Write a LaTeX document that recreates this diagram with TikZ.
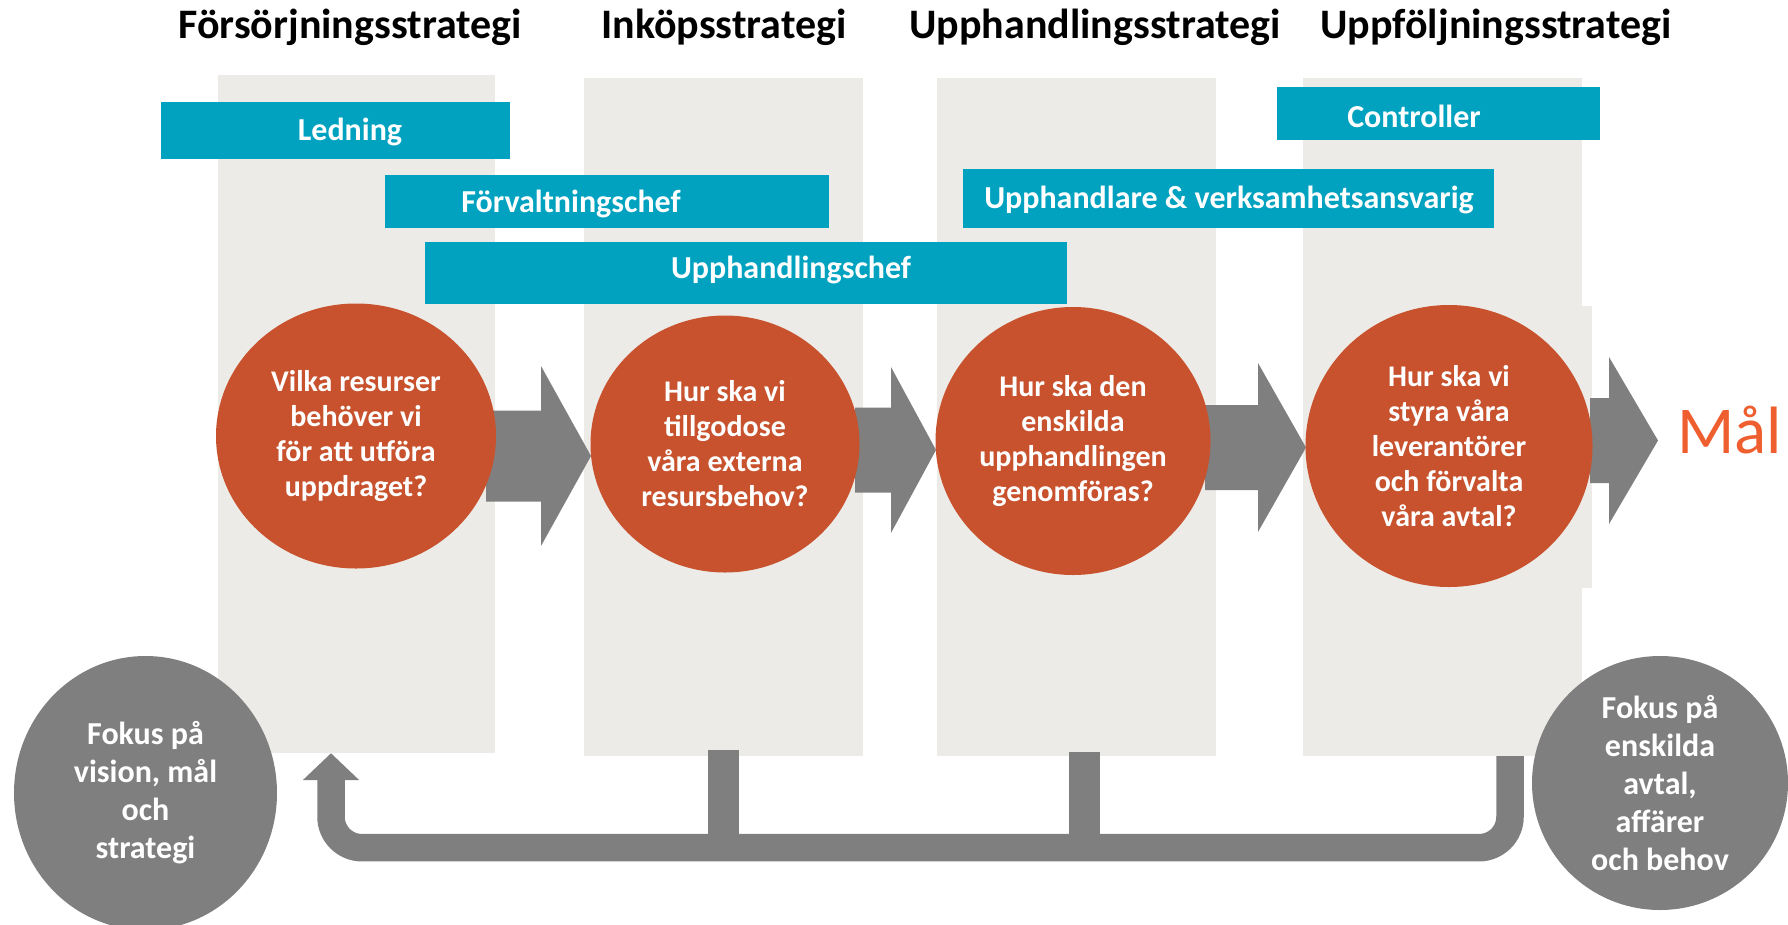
\documentclass[tikz,border=0pt]{standalone}
\usepackage{fontspec}
\setmainfont{Carlito}
\usepackage{tikz}
\usetikzlibrary{shapes.geometric}
\usetikzlibrary{arrows.meta}
\definecolor{roleblue}{RGB}{0,162,192}
\definecolor{stepred}{RGB}{199,82,45}
\definecolor{colgrey}{RGB}{237,235,231}
\definecolor{flowgrey}{RGB}{127,127,127}
\definecolor{goalred}{RGB}{238,94,46}
% block arrow: shaft start, head start, tip, middle, half shaft, half head
\newcommand{\blockarrow}[6]{%
    \fill[flowgrey] (#1,#4-#5) -- (#2,#4-#5) -- (#2,#4-#6) -- (#3,#4)
        -- (#2,#4+#6) -- (#2,#4+#5) -- (#1,#4+#5) -- cycle;}
\tikzset{
    stratcol/.style={fill=colgrey, inner sep=0pt, minimum width=279pt, minimum height=678pt},
    stratitle/.style={anchor=base, font=\fontsize{42}{50}\selectfont\bfseries},
    rolebox/.style={fill=roleblue},
    role/.style={anchor=base, text=white, font=\fontsize{32}{38}\selectfont\bfseries},
    question/.style={ellipse, fill=stepred, text=white, inner sep=0pt, align=center,
        font=\fontsize{30}{35}\selectfont\bfseries},
    focus/.style={ellipse, fill=flowgrey, text=white, inner sep=0pt, align=center,
        font=\fontsize{32}{38}\selectfont\bfseries},
    feedback/.style={draw=flowgrey, line width=27.5pt}
}
\begin{document}
\begin{tikzpicture}[x=1pt, y=-1pt]
    \useasboundingbox (0,0) rectangle (1788,924);

    % columns
    \node[stratcol, minimum width=277pt] (col1) at (356.5,414) {};
    \node[stratcol] (col2) at (723.5,417) {};
    \node[stratcol] (col3) at (1076.5,417) {};
    \node[stratcol] (col4) at (1442.5,417) {};
    \fill[colgrey] (1303,306) rectangle (1592,588);

    \node[stratitle] (t-forsorjning) at (350,38) {Försörjningsstrategi};
    \node[stratitle] (t-inkop) at (724,38) {Inköpsstrategi};
    \node[stratitle] (t-upphandling) at (1095,38) {Upphandlingsstrategi};
    \node[stratitle] (t-uppfoljning) at (1496,38) {Uppföljningsstrategi};

    % roles
    \path[rolebox] (161,102) rectangle (510,159);
    \path[rolebox] (385,175) rectangle (829,228);
    \path[rolebox] (425,242) rectangle (1067,304);
    \path[rolebox] (1277,87) rectangle (1600,140);
    \path[rolebox] (963,169) rectangle (1494,228);
    \node[role] (ledning) at (350,140) {Ledning};
    \node[role] (forvaltningschef) at (571,212) {Förvaltningschef};
    \node[role] (upphandlingschef) at (791,278) {Upphandlingschef};
    \node[role] (controller) at (1414,127) {Controller};
    \node[role] (upphandlare) at (1229,208) {Upphandlare \& verksamhetsansvarig};

    % flow
    \blockarrow{486}{541}{591}{456}{45.5}{90}
    \blockarrow{855}{891}{936}{450}{42.5}{83}
    \blockarrow{1205}{1258}{1306}{447.5}{42.5}{84.5}
    \blockarrow{1590}{1609}{1658}{440.5}{42.5}{83.5}

    \node[question, minimum width=280pt, minimum height=265pt] (q1) at (356,436)
        {Vilka resurser\\behöver vi\\för att utföra\\uppdraget?};
    \node[question, minimum width=269pt, minimum height=257pt] (q2) at (725,444)
        {Hur ska vi\\tillgodose\\våra externa\\resursbehov?};
    \node[question, minimum width=275pt, minimum height=268pt] (q3) at (1073,441)
        {Hur ska den\\enskilda\\upphandlingen\\genomföras?};
    \node[question, minimum width=287pt, minimum height=282pt] (q4) at (1449,446)
        {Hur ska vi\\styra våra\\leverantörer\\och förvalta\\våra avtal?};

    \node[anchor=base west, inner sep=0pt, text=goalred, font=\fontsize{67}{76}\selectfont]
        (goal) at (1677,453) {Mål};

    % feedback loop
    \coordinate (fb-start) at ([xshift=67.5pt]col4.south);
    \coordinate (fb-end) at ([xshift=-25.5pt]col1.south);
    \draw[feedback, line width=31pt] ([yshift=6pt]col2.south) -- ++(0,86);
    \draw[feedback, line width=31pt] ([xshift=7.5pt, yshift=4pt]col3.south) -- ++(0,86);
    \draw[feedback, rounded corners=31pt, -{Triangle[length=27pt, width=55pt]}]
        (fb-start) -- ++(0,91.5) -| (fb-end);

    \node[focus, minimum width=263pt, minimum height=274pt] (focus-vision) at (145.5,793)
        {Fokus på\\vision, mål\\och\\strategi};
    \node[focus, minimum width=256pt, minimum height=254pt] (focus-avtal) at (1660,783)
        {Fokus på\\enskilda\\avtal,\\affärer\\och behov};
\end{tikzpicture}
\end{document}
